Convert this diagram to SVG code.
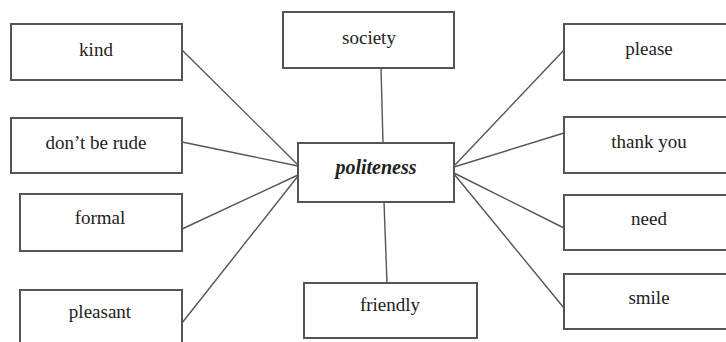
<svg xmlns="http://www.w3.org/2000/svg" width="726" height="342" viewBox="0 0 726 342">
<style>
.box{fill:#fff;stroke:#555;stroke-width:2}
.lbl{font-family:"Liberation Serif",serif;font-size:19px;fill:#222;text-anchor:middle}
.main{font-weight:bold;font-style:italic;font-size:20px}
.conn line{stroke:#555;stroke-width:1.4}
</style>
<rect width="726" height="342" fill="#fff"/>
<g class="conn">
<line x1="182" y1="50" x2="298" y2="165"/>
<line x1="182" y1="142" x2="298" y2="166"/>
<line x1="182" y1="229" x2="298" y2="175"/>
<line x1="182" y1="323" x2="298" y2="176"/>
<line x1="381" y1="68" x2="383" y2="143"/>
<line x1="384" y1="202" x2="387" y2="283"/>
<line x1="564" y1="50" x2="454" y2="166"/>
<line x1="564" y1="133" x2="454" y2="167"/>
<line x1="564" y1="228" x2="454" y2="173"/>
<line x1="564" y1="308" x2="454" y2="174"/>
</g>
<g id="kind"><rect class="box" x="11" y="24" width="171" height="56"/><text class="lbl" x="96" y="56">kind</text></g>
<g id="rude"><rect class="box" x="11" y="118" width="171" height="55"/><text class="lbl" x="96" y="149">don’t be rude</text></g>
<g id="formal"><rect class="box" x="20" y="194" width="162" height="57"/><text class="lbl" x="100" y="224">formal</text></g>
<g id="pleasant"><rect class="box" x="20" y="290" width="162" height="57"/><text class="lbl" x="100" y="318">pleasant</text></g>
<g id="society"><rect class="box" x="283" y="12" width="171" height="56"/><text class="lbl" x="369" y="44">society</text></g>
<g id="politeness"><rect class="box" x="298" y="143" width="156" height="59"/><text class="lbl main" x="376" y="174">politeness</text></g>
<g id="friendly"><rect class="box" x="304" y="283" width="173" height="55"/><text class="lbl" x="390" y="311">friendly</text></g>
<g id="please"><rect class="box" x="564" y="24" width="172" height="56"/><text class="lbl" x="649" y="55">please</text></g>
<g id="thankyou"><rect class="box" x="564" y="117" width="172" height="56"/><text class="lbl" x="649" y="148">thank you</text></g>
<g id="need"><rect class="box" x="564" y="195" width="172" height="55"/><text class="lbl" x="649" y="225">need</text></g>
<g id="smile"><rect class="box" x="564" y="274" width="172" height="55"/><text class="lbl" x="649" y="304">smile</text></g>
</svg>
